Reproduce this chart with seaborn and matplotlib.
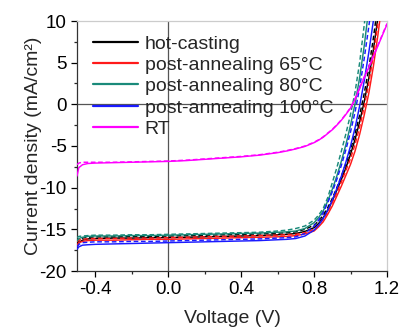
import numpy as np
import pandas as pd
import matplotlib
matplotlib.use("Agg")
import matplotlib.pyplot as plt
import seaborn as sns
from matplotlib.lines import Line2D
from matplotlib.ticker import MultipleLocator

# Voltage grid (V), shared by every scan
voltage = [-0.5, -0.49, -0.47, -0.44, -0.4, -0.3, -0.2, -0.1, 0.0, 0.1, 0.2, 0.3,
           0.4, 0.5, 0.6, 0.65, 0.7, 0.75, 0.8, 0.825, 0.85, 0.875, 0.9, 0.925,
           0.95, 0.975, 1.0, 1.025, 1.05, 1.075, 1.1, 1.125, 1.15, 1.175, 1.2]

# Current density (mA/cm2), solid = one scan direction, dashed = the other
hot_solid = [-17.1, -16.6, -16.3, -16.15, -16.1, -16.05, -16.05, -16.0, -16.0, -15.95, -15.9, -15.85,
             -15.8, -15.75, -15.65, -15.6, -15.5, -15.25, -14.8, -14.3, -13.6, -12.7, -11.6, -10.3,
             -9.0, -7.6, -6.0, -4.2, -2.1, 0.3, 3.1, 6.5, 10.4, 14.8, 19.5]
hot_dash = [-16.7, -16.3, -16.05, -15.95, -15.9, -15.9, -15.85, -15.85, -15.8, -15.75, -15.7, -15.65,
            -15.6, -15.55, -15.45, -15.4, -15.3, -15.0, -14.5, -14.0, -13.3, -12.4, -11.3, -10.0,
            -8.6, -7.1, -5.4, -3.5, -1.3, 1.3, 4.3, 7.9, 12.0, 16.5, 21.0]
a65_solid = [-16.9, -16.6, -16.45, -16.35, -16.3, -16.3, -16.25, -16.2, -16.2, -16.15, -16.1, -16.05,
             -16.0, -15.95, -15.9, -15.85, -15.75, -15.55, -15.2, -14.7, -14.1, -13.2, -12.2, -11.0,
             -9.8, -8.5, -7.2, -5.6, -3.6, -1.3, 1.3, 4.5, 8.3, 12.5, 17.0]
a65_dash = [-16.5, -16.3, -16.2, -16.15, -16.1, -16.1, -16.05, -16.05, -16.0, -15.95, -15.9, -15.85,
            -15.8, -15.75, -15.7, -15.65, -15.6, -15.4, -15.0, -14.5, -13.8, -12.9, -11.8, -10.6,
            -9.3, -7.9, -6.5, -4.8, -2.7, -0.3, 2.5, 5.9, 9.8, 14.2, 19.0]
a80_solid = [-16.4, -16.1, -15.95, -15.85, -15.8, -15.8, -15.75, -15.75, -15.7, -15.65, -15.6, -15.55,
             -15.5, -15.45, -15.35, -15.3, -15.2, -14.9, -14.2, -13.6, -12.8, -11.6, -10.2, -8.6,
             -6.8, -4.8, -2.5, 0.1, 3.2, 7.0, 11.5, 16.0, 21.0, 26.0, 31.0]
a80_dash = [-16.0, -15.85, -15.8, -15.75, -15.7, -15.7, -15.65, -15.65, -15.6, -15.55, -15.5, -15.45,
            -15.4, -15.35, -15.2, -15.1, -14.9, -14.6, -13.9, -13.3, -12.5, -11.2, -9.4, -7.6,
            -5.6, -3.5, -1.2, 1.5, 5.0, 9.5, 14.0, 19.0, 24.0, 29.0, 34.0]
a100_solid = [-17.4, -17.1, -16.9, -16.85, -16.8, -16.75, -16.7, -16.65, -16.6, -16.55, -16.5, -16.45,
              -16.4, -16.35, -16.25, -16.2, -16.1, -15.8, -15.1, -14.5, -13.7, -12.7, -11.5, -10.1,
              -8.6, -6.9, -5.0, -2.8, -0.2, 2.8, 6.2, 10.0, 14.0, 18.5, 23.0]
a100_dash = [-17.1, -16.8, -16.6, -16.55, -16.5, -16.5, -16.45, -16.45, -16.4, -16.35, -16.3, -16.25,
             -16.2, -16.15, -16.05, -16.0, -15.9, -15.5, -14.6, -13.9, -13.0, -11.8, -10.5, -9.0,
             -7.3, -5.4, -3.3, -0.9, 2.0, 5.5, 9.3, 13.5, 18.0, 23.0, 28.0]
rt_solid = [-8.6, -7.6, -7.25, -7.1, -7.05, -7.0, -6.95, -6.9, -6.85, -6.75, -6.6, -6.45,
            -6.3, -6.1, -5.8, -5.6, -5.35, -5.05, -4.6, -4.3, -3.95, -3.5, -3.05, -2.5,
            -1.9, -1.2, -0.45, 0.6, 1.9, 3.2, 4.4, 5.7, 7.0, 8.3, 9.6]
rt_dash = [-7.25, -7.05, -6.95, -6.95, -6.95, -6.95, -6.9, -6.85, -6.8, -6.7, -6.55, -6.4,
           -6.25, -6.05, -5.75, -5.55, -5.3, -5.0, -4.55, -4.25, -3.9, -3.45, -3.0, -2.45,
           -1.85, -1.15, -0.4, 0.7, 2.0, 3.3, 4.5, 5.8, 7.1, 8.4, 9.7]

labels = ["hot-casting", "post-annealing 65\u00b0C", "post-annealing 80\u00b0C",
          "post-annealing 100\u00b0C", "RT"]
colors = ["#000000", "#ff1a1a", "#1a8a7a", "#1a1aff", "#ff00ff"]

curves = [
    (labels[0], "solid", hot_solid), (labels[0], "dash", hot_dash),
    (labels[1], "solid", a65_solid), (labels[1], "dash", a65_dash),
    (labels[2], "solid", a80_solid), (labels[2], "dash", a80_dash),
    (labels[3], "solid", a100_solid), (labels[3], "dash", a100_dash),
    (labels[4], "dash", rt_dash), (labels[4], "solid", rt_solid),
]

rows = []
for name, scan, vals in curves:
    for v, j in zip(voltage, vals):
        rows.append({"sample": name, "scan": scan, "V": v, "J": j})
df = pd.DataFrame(rows)

sns.set_style("ticks")
plt.rcParams["font.family"] = ["Liberation Sans", "DejaVu Sans"]
plt.rcParams["axes.unicode_minus"] = False

fig = plt.figure(figsize=(4.01, 3.28), dpi=100)
ax = fig.add_axes([77 / 401, 1 - 271 / 328, 310 / 401, 250 / 328])

ax.axvline(0, color="#555555", lw=0.9, zorder=1)
ax.axhline(0, color="#555555", lw=0.9, zorder=1)

sns.lineplot(data=df, x="V", y="J", hue="sample", style="scan",
             palette=dict(zip(labels, colors)),
             dashes={"solid": "", "dash": (3.2, 1.8)},
             hue_order=labels, style_order=["solid", "dash"],
             estimator=None, sort=False, lw=1.05, legend=False, ax=ax, zorder=3)

ax.set_xlim(-0.5, 1.2)
ax.set_ylim(-20, 10)
ax.xaxis.set_major_locator(MultipleLocator(0.4))
ax.xaxis.set_minor_locator(MultipleLocator(0.2))
ax.yaxis.set_major_locator(MultipleLocator(5))
ax.yaxis.set_minor_locator(MultipleLocator(2.5))
ax.set_xticks([-0.4, 0.0, 0.4, 0.8, 1.2])
ax.set_xticklabels(["-0.4", "0.0", "0.4", "0.8", "1.2"])

ax.tick_params(which="major", direction="out", length=4, width=0.9, pad=3.5,
               labelsize=13.5, colors="#000000", top=False, right=False)
ax.tick_params(which="minor", direction="out", length=2.5, width=0.9,
               top=False, right=False)

for s in ["left", "bottom"]:
    ax.spines[s].set_color("#333333")
    ax.spines[s].set_linewidth(0.9)
for s in ["top", "right"]:
    ax.spines[s].set_visible(True)
    ax.spines[s].set_color("#cccccc")
    ax.spines[s].set_linewidth(0.9)

ax.set_xlabel("Voltage (V)", fontsize=14, labelpad=8.5)
ax.set_ylabel("Current density (mA/cm\u00b2)", fontsize=14, labelpad=-2)

handles = [Line2D([], [], color=c, lw=1.6) for c in colors]
ax.legend(handles, labels, loc="upper left", bbox_to_anchor=(0.052, 0.944),
          frameon=False, fontsize=14, handlelength=2.3, handletextpad=0.35,
          labelspacing=0.19, borderpad=0, borderaxespad=0)

fig.savefig("out.png", dpi=100)
